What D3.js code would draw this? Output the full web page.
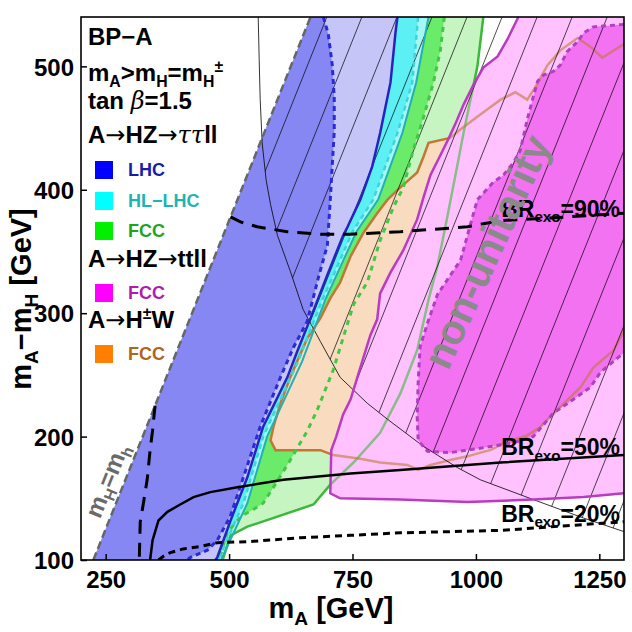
<!DOCTYPE html>
<html>
<head>
<meta charset="utf-8">
<script src="https://cdn.jsdelivr.net/npm/d3@7"></script>
<style>
  body { margin: 0; background: #fff; }
  text { font-family: "Liberation Sans", Arial, sans-serif; font-weight: bold; }
</style>
</head>
<body>
<svg id="chart" width="632" height="632"></svg>
<script>
// axis ticks
var xTicks = [250, 500, 750, 1000, 1250];
var yTicks = [100, 200, 300, 400, 500];

// m_H = m_h  ->  mA - mH = mA - 125
var mhLine = [[225, 100], [665, 540]];

// A -> HZ -> tautau ll, boundaries [mA, mA-mH], top to bottom
var lhcDashed = [[691,540],[701,526],[709,501],[713,475],[713,447],[709,420],[705,392],[699,355],[681,329],[658,293],[630,272],[604,248],[563,208],[529,167],[502,135],[476,116],[456,108],[421,102],[415,100]];
var lhcSolid = [[841,540],[837,527],[827,487],[806,446],[790,419],[766,392],[740,370],[731,363],[719,351],[699,331],[665,296],[638,269],[618,248],[569,208],[537,167],[503,132],[476,102],[472,100]];
var hlDashed = [[883,540],[871,487],[841,446],[792,392],[750,366],[705,325],[689,311],[640,261],[569,200],[529,146],[480,102],[478,100]];
var hlSolid = [[904,540],[879,487],[851,446],[802,392],[758,366],[711,325],[695,311],[648,261],[577,200],[537,146],[486,102],[484,100]];
var fccDashed = [[936,540],[928,513],[914,487],[894,459],[873,432],[853,402],[833,386],[806,359],[780,325],[752,307],[731,280],[711,254],[679,222],[659,205],[624,181],[590,159],[569,146],[549,141],[523,135],[496,122],[484,106],[481,100]];
var fccSolid = [[1015,540],[1003,500],[989,473],[975,446],[962,419],[942,378],[922,338],[904,311],[881,270],[847,235],[806,203],[752,179],[705,161],[671,145],[537,127],[503,120],[490,104],[487,100]];

// A -> H+- W (FCC)
var hwFcc = [[1300,518],[1256,507],[1232,516],[1206,523],[1171,513],[1145,501],[1120,483],[1104,473],[1080,479],[1050,473],[1009,461],[969,449],[948,442],[904,438],[894,427],[881,414],[847,402],[821,392],[800,381],[772,365],[746,346],[725,325],[705,312],[685,296],[659,280],[638,261],[624,248],[604,227],[590,208],[584,197],[594,189],[685,189],[711,185],[766,182],[806,179],[861,177],[883,173],[908,177],[948,181],[983,184],[1009,187],[1029,189],[1064,196],[1104,201],[1131,208],[1171,224],[1212,240],[1238,256],[1279,270],[1300,286]];

// A -> HZ -> tt ll (FCC)
var ttSolid = [[1086,540],[1064,522],[1044,508],[1015,499],[995,485],[975,469],[958,453],[944,441],[928,428],[908,412],[894,394],[881,376],[853,351],[827,333],[806,316],[800,295],[786,282],[766,256],[746,230],[731,218],[717,200],[707,189],[705,154],[725,150],[847,149],[983,147],[1116,149],[1218,151],[1300,154]];
var ttDashed = [[1300,534],[1238,532],[1218,527],[1206,520],[1185,512],[1171,501],[1157,496],[1137,493],[1125,488],[1116,475],[1104,457],[1090,432],[1076,422],[1056,412],[1035,406],[1003,392],[989,372],[969,343],[942,327],[922,315],[902,292],[887,273],[883,244],[881,216],[883,197],[902,188],[948,187],[1015,191],[1076,195],[1116,200],[1157,219],[1197,230],[1232,240],[1252,252],[1279,261],[1300,268]];

// non-unitarity boundary
var unitCurve = [[559,540],[561,505],[563,473],[567,438],[575,408],[584,388],[598,363],[624,334],[650,303],[685,277],[725,248],[780,227],[821,214],[894,192],[962,175],[1009,165],[1116,149],[1218,134],[1300,123]];
var hatchOffsets = [158, 229, 300, 371, 442, 513, 584, 655, 726, 797, 868, 939, 1010, 1081, 1152];

// BR_exo contours
var br90 = [[503,378],[523,374],[557,370],[618,366],[685,364],[746,364],[847,366],[983,370],[1050,375],[1185,378],[1300,381]];
var br90Left = [[350,225],[345,205],[340,189],[334,165],[326,145],[320,131],[318,100]];
var br50 = [[340,100],[345,116],[357,132],[375,139],[401,145],[428,151],[462,155],[517,159],[610,165],[746,170],[847,173],[1050,179],[1300,185]];
var br20 = [[357,100],[367,103],[381,106],[407,109],[442,111],[476,114],[543,115],[644,118],[746,120],[847,122],[1050,124],[1300,131]];

var svg = d3.select('#chart'),
    margin = {top: 17, right: 8, bottom: 72, left: 81},
    width = 632 - margin.left - margin.right,
    height = 632 - margin.top - margin.bottom,
    g = svg.append('g').attr('transform', 'translate(' + margin.left + ',' + margin.top + ')');

var x = d3.scaleLinear().domain([200, 1300]).range([0, width]);
var y = d3.scaleLinear().domain([100, 540]).range([height, 0]);
var line = d3.line().x(function (d) { return x(d[0]); }).y(function (d) { return y(d[1]); });

var defs = svg.append('defs');
defs.append('clipPath').attr('id', 'plotClip')
  .append('rect').attr('width', width).attr('height', height);
defs.append('clipPath').attr('id', 'unitClip')
  .append('path').attr('d', line(unitCurve.concat([[1300, 540]])) + 'Z');
defs.append('clipPath').attr('id', 'ttClip')
  .append('path').attr('d', line(ttSolid.concat([[1300, 540]])) + 'Z');

var plot = g.append('g').attr('clip-path', 'url(#plotClip)');

// region between the m_H=m_h line and a boundary
function leftOf(b) {
  return line([[665, 540]].concat(b).concat([[225, 100]])) + 'Z';
}

[[fccSolid, '#c6f5c2'], [fccDashed, '#6aec6a'], [hlSolid, '#a6f6f6'],
 [hlDashed, '#5cf0f4'], [lhcSolid, '#c5c5f8'], [lhcDashed, '#8787f4']]
  .forEach(function (r) {
    plot.append('path').attr('d', leftOf(r[0])).attr('fill', r[1]);
  });

plot.append('path').attr('d', line(hwFcc) + 'Z').attr('fill', '#f9dcbf');

// lines that later get covered by the pink regions
plot.append('path').attr('d', line(fccSolid)).attr('fill', 'none')
  .attr('stroke', '#3cb83c').attr('stroke-width', 2.5);
plot.append('path').attr('d', line(hwFcc)).attr('fill', 'none')
  .attr('stroke', '#c07834').attr('stroke-width', 2.5);

plot.append('path').attr('d', line(ttSolid.concat([[1300, 540]])) + 'Z').attr('fill', '#ffc2ff');
plot.append('path').attr('d', line(ttDashed) + 'Z').attr('fill', '#f272f2');

// faded continuation inside the pink area
var pale = plot.append('g').attr('clip-path', 'url(#ttClip)');
pale.append('path').attr('d', line(fccSolid)).attr('fill', 'none')
  .attr('stroke', '#3cb83c').attr('stroke-opacity', 0.6).attr('stroke-width', 2.5);
pale.append('path').attr('d', line(hwFcc)).attr('fill', 'none')
  .attr('stroke', '#c07834').attr('stroke-opacity', 0.6).attr('stroke-width', 2.5);

// non-unitarity hatch
var hatch = plot.append('g').attr('clip-path', 'url(#unitClip)');
hatchOffsets.forEach(function (c) {
  hatch.append('path').attr('d', line([[c + 100, 100], [c + 540, 540]]))
    .attr('stroke', '#000').attr('stroke-width', 0.7);
});
plot.append('path').attr('d', line(unitCurve)).attr('fill', 'none')
  .attr('stroke', '#000').attr('stroke-width', 0.8);

// boundary lines
function stroke(data, color, w, dash) {
  plot.append('path').attr('d', line(data)).attr('fill', 'none')
    .attr('stroke', color).attr('stroke-width', w)
    .attr('stroke-dasharray', dash || null);
}
stroke(ttSolid, '#b83cc0', 2.5);
stroke(ttDashed, '#b040c0', 3, '5,4');
stroke(fccDashed, '#44c844', 3, '5,5');
stroke(hlSolid, '#22b0b4', 2);
stroke(hlDashed, '#40d4d8', 2.5, '5,4');
stroke(lhcSolid, '#2424c0', 2.5);
stroke(lhcDashed, '#2a2ad6', 3, '5,4');
stroke(mhLine, '#666', 2.5, '8,4');
stroke(br90, '#000', 3, '14,9');
stroke(br90Left, '#000', 3, '14,9');
stroke(br50, '#000', 2.5);
stroke(br20, '#000', 3, '7,5');

// frame and axes
g.append('rect').attr('width', width).attr('height', height)
  .attr('fill', 'none').attr('stroke', '#000').attr('stroke-width', 1.6);

var xAxis = g.append('g').attr('transform', 'translate(0,' + height + ')')
  .call(d3.axisBottom(x).tickValues(xTicks).tickFormat(d3.format('d'))
    .tickSizeInner(-6).tickSizeOuter(0).tickPadding(11));
var yAxis = g.append('g')
  .call(d3.axisLeft(y).tickValues(yTicks).tickFormat(d3.format('d'))
    .tickSizeInner(-6).tickSizeOuter(0).tickPadding(7));
[xAxis, yAxis].forEach(function (a) {
  a.select('.domain').remove();
  a.selectAll('line').attr('stroke', '#000').attr('stroke-width', 1.5);
  a.selectAll('text').attr('font-size', 24).attr('fill', '#000')
    .attr('font-family', '"Liberation Sans", Arial, sans-serif').attr('font-weight', 'bold');
});
yAxis.selectAll('text').attr('dy', '0.36em');

// rich text helper: parts = [[str, 'n' | 'sub' | 'sup' | 'arr', style]]
function rich(parent, px, py, size, parts, anchor, color) {
  var t = parent.append('text').attr('x', px).attr('y', py)
    .attr('font-size', size).attr('fill', color || '#000')
    .attr('text-anchor', anchor || 'start');
  var shift = 0;
  parts.forEach(function (p) {
    var s = t.append('tspan').text(p[0]);
    var target = p[1] === 'sub' ? size * 0.24 : (p[1] === 'sup' ? -size * 0.36 : 0);
    if (p[1] === 'sub' || p[1] === 'sup') s.attr('font-size', size * 0.66);
    if (p[1] === 'arr') s.attr('font-family', '"DejaVu Sans", sans-serif').attr('font-weight', 'normal');
    if (p[2]) s.attr('font-style', 'italic').attr('font-weight', 'normal')
      .attr('font-family', '"DejaVu Serif", serif');
    s.attr('dy', target - shift);
    shift = target;
  });
  return t;
}

// axis titles
rich(svg, margin.left + 250, 618, 29, [['m', 'n'], ['A', 'sub'], [' [GeV]', 'n']], 'middle');
rich(svg.append('g').attr('transform', 'translate(31,299) rotate(-90)'), 0, 0, 29,
  [['m', 'n'], ['A', 'sub'], ['\u2212m', 'n'], ['H', 'sub'], [' [GeV]', 'n']], 'middle');

// legend block
var leg = svg.append('g');
rich(leg, 88, 45, 24, [['BP\u2212A', 'n']]);
rich(leg, 88, 81, 24, [['m', 'n'], ['A', 'sub'], ['>m', 'n'], ['H', 'sub'], ['=m', 'n'], ['H', 'sub'], ['\u00b1', 'sup']]);
rich(leg, 88, 109, 24, [['tan ', 'n'], ['\u03b2', 'n', 'it'], ['=1.5', 'n']]);
rich(leg, 88, 143, 24, [['A', 'n'], ['\u2192', 'arr'], ['HZ', 'n'], ['\u2192', 'arr'], ['\u03c4\u03c4', 'n', 'it'], ['ll', 'n']]);
rich(leg, 88, 267, 24, [['A', 'n'], ['\u2192', 'arr'], ['HZ', 'n'], ['\u2192', 'arr'], ['ttll', 'n']]);
rich(leg, 88, 328, 24, [['A', 'n'], ['\u2192', 'arr'], ['H', 'n'], ['\u00b1', 'sup'], ['W', 'n']]);

var legendItems = [
  {y: 161, fill: '#0000ff', text: 'LHC', color: '#1c1ca6'},
  {y: 192, fill: '#00ffff', text: 'HL\u2212LHC', color: '#1cb4b4'},
  {y: 222, fill: '#00f000', text: 'FCC', color: '#1ea41e'},
  {y: 284, fill: '#ff00ff', text: 'FCC', color: '#b01cb0'},
  {y: 345, fill: '#ff7f00', text: 'FCC', color: '#b0641e'}
];
legendItems.forEach(function (d) {
  leg.append('rect').attr('x', 95).attr('y', d.y).attr('width', 18).attr('height', 18).attr('fill', d.fill);
  leg.append('text').attr('x', 128).attr('y', d.y + 15).attr('font-size', 18)
    .attr('fill', d.color).text(d.text);
});

// in-plot labels
var lab = g.append('g');
rich(lab, x(1292), y(378), 23, [['BR', 'n'], ['exo', 'sub'], ['=90%', 'n']], 'end');
rich(lab, x(1292), y(185), 23, [['BR', 'n'], ['exo', 'sub'], ['=50%', 'n']], 'end');
rich(lab, x(1292), y(131), 23, [['BR', 'n'], ['exo', 'sub'], ['=20%', 'n']], 'end');

var nu = lab.append('g').attr('transform', 'translate(' + x(1022) + ',' + y(350) + ') rotate(-65.5)');
nu.append('text').attr('text-anchor', 'middle').attr('dy', '0.35em')
  .attr('font-size', 41).attr('fill', '#8a8a8a').text('non-unitarity');

var mh = lab.append('g').attr('transform', 'translate(' + x(268) + ',' + y(162) + ') rotate(-68.2)');
rich(mh, 0, 0, 24, [['m', 'n'], ['H', 'sub'], ['=m', 'n'], ['h', 'sub']], 'middle', '#6a6a6a');
</script>
</body>
</html>
